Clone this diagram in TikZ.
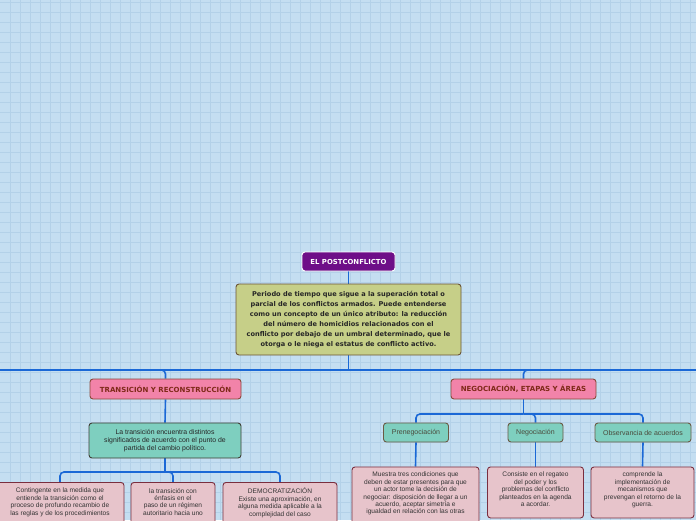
\documentclass[tikz,border=0pt]{standalone}
\usepackage{fontspec}
\setmainfont{Liberation Sans}
\newfontfamily\dvsans{DejaVu Sans}
\pgfdeclarelayer{gridlayer}
\pgfdeclarelayer{connlayer}
\pgfsetlayers{gridlayer,connlayer,main}
\begin{document}
\begin{tikzpicture}[x=1pt,y=-1pt,
  conn/.style={draw=lineblue,line width=1.6pt,rounded corners=4pt},
  box/.style={rounded corners=3pt,line width=0.9pt,align=center,inner sep=0pt},
  rootbox/.style={box,fill=rootpurple,draw=white,text=white,font=\dvsans\bfseries\fontsize{6.9}{7}\selectfont,minimum width=93pt,minimum height=19pt},
  defbox/.style={box,fill=olive1,draw=brown1,text=black!85,font=\dvsans\bfseries\fontsize{6.6}{10}\selectfont,minimum width=225pt,minimum height=71pt},
  titlebox/.style={box,fill=pink1,draw=brown2,text=titlered,font=\dvsans\bfseries\fontsize{7}{7}\selectfont,minimum height=20pt},
  tealbox/.style={box,fill=teal1,draw=gray1,text=black!85,font=\fontsize{6.9}{8}\selectfont,minimum height=19pt},
  phasebox/.style={box,fill=teal1,draw=gray2,text=smalltext,font=\fontsize{7}{8}\selectfont,minimum height=19pt},
  leafbox/.style={box,fill=pink2,draw=leafborder,anchor=north},
  leaftext/.style={anchor=north,align=center,inner sep=0pt,text=black!80,font=\fontsize{6.6}{7.4}\selectfont}
]
\definecolor{bgblue}{HTML}{C4DEF1}
\definecolor{gridblue}{HTML}{B3D1E8}
\definecolor{lineblue}{HTML}{1A68D6}
\definecolor{rootpurple}{HTML}{6E0E88}
\definecolor{olive1}{HTML}{C6CF88}
\definecolor{brown1}{HTML}{6B5434}
\definecolor{pink1}{HTML}{F283A9}
\definecolor{brown2}{HTML}{8A4A3A}
\definecolor{titlered}{HTML}{7E2A18}
\definecolor{teal1}{HTML}{7ECFBF}
\definecolor{gray1}{HTML}{3E3E34}
\definecolor{gray2}{HTML}{6A5A44}
\definecolor{pink2}{HTML}{E7C4CB}
\definecolor{leafborder}{HTML}{7A2E3E}
\definecolor{smalltext}{HTML}{4A4A3C}

\useasboundingbox (0,0) rectangle (696,520);
\begin{pgfonlayer}{gridlayer}
\fill[bgblue] (0,0) rectangle (696,520);
\foreach \i in {10,20,...,690} \draw[gridblue,line width=0.8pt] (\i,0) -- (\i,520);
\foreach \j in {2,12,...,512} \draw[gridblue,line width=0.8pt] (0,\j) -- (696,\j);
\end{pgfonlayer}

\begin{scope}
\clip (0,0) rectangle (696,520);
\coordinate (hl) at (0,370);
\coordinate (hr) at (696,370);
\coordinate (tb) at (165,472);
\coordinate (nb) at (523.5,414);

% nodes
\node[rootbox] (root) at (348.5,261.5) {EL POSTCONFLICTO};
\node[defbox] (def) at (348.5,319.5) {Periodo de tiempo que sigue a la superación total o\\parcial de los conflictos armados. Puede entenderse\\como un concepto de un único atributo: la reducción\\del número de homicidios relacionados con el\\conflicto por debajo de un umbral determinado, que le\\otorga o le niega el estatus de conflicto activo.};

\node[titlebox,minimum width=151pt] (trans) at (165.5,389) {TRANSICIÓN Y RECONSTRUCCIÓN};
\node[titlebox,minimum width=145pt] (nego) at (523.5,389) {NEGOCIACIÓN, ETAPAS Y ÁREAS};

\node[tealbox,minimum width=152pt,minimum height=35pt] (tdef) at (165,440.5) {La transición encuentra distintos\\significados de acuerdo con el punto de\\partida del cambio político.};

\node[phasebox,minimum width=65pt] (pre) at (416,432.5) {Prenegociación};
\node[phasebox,minimum width=55pt] (neg) at (535.5,432.5) {Negociación};
\node[phasebox,minimum width=96pt] (obs) at (643,432.5) {Observancia de acuerdos};

\node[leafbox,minimum width=128pt,minimum height=60pt] (c1) at (60,482) {};
\node[leafbox,minimum width=84pt,minimum height=60pt] (c2) at (173,482) {};
\node[leafbox,minimum width=114pt,minimum height=60pt] (c3) at (280,482) {};
\node[leafbox,minimum width=127pt,minimum height=70pt] (mu) at (415.5,466.5) {};
\node[leafbox,minimum width=96pt,minimum height=51pt] (co) at (535.5,466.5) {};
\node[leafbox,minimum width=103pt,minimum height=51pt] (cp) at (642.5,466.5) {};

\node[leaftext] (c1t) at ([yshift=-6pt]c1.north) {Contingente en la medida que\\entiende la transición como el\\proceso de profundo recambio de\\las reglas y de los procedimientos};
\node[leaftext] (c2t) at ([yshift=-6pt]c2.north) {la transición con\\énfasis en el\\paso de un régimen\\autoritario hacia uno};
\node[leaftext] (c3t) at ([yshift=-6pt]c3.north) {DEMOCRATIZACIÓN\\Existe una aproximación, en\\alguna medida aplicable a la\\complejidad del caso};
\node[leaftext] (mut) at ([yshift=-5.5pt]mu.north) {Muestra tres condiciones que\\deben de estar presentes para que\\un actor tome la decisión de\\negociar: disposición de llegar a un\\acuerdo, aceptar simetría e\\igualdad en relación con las otras};
\node[leaftext] (cot) at ([yshift=-5.5pt]co.north) {Consiste en el regateo\\del poder y los\\problemas del conflicto\\planteados en la agenda\\a acordar.};
\node[leaftext] (cpt) at ([yshift=-5.5pt]cp.north) {comprende la\\implementación de\\mecanismos que\\prevengan el retorno de la\\guerra.};
\end{scope}

\begin{pgfonlayer}{connlayer}
\draw[conn] (root.south) -- (def.north);
\draw[conn] (hl) -- (hr);
\draw[conn] (def.south) -- (def.south |- hl);
\draw[conn] (hl) -| (trans.north);
\draw[conn] (hr) -| (nego.north);
\draw[conn] (trans.south) -- (tdef.north);
\draw[conn] (tdef.south) -- (tb);
\draw[conn] (tb) -| (c1.north);
\draw[conn] (tb) -| (c2.north);
\draw[conn] (tb) -| (c3.north);
\draw[conn] (nego.south) -- (nb);
\draw[conn] (nb) -| (pre.north);
\draw[conn] (nb) -| (neg.north);
\draw[conn] (nb) -| (obs.north);
\draw[conn] (pre.south) -- (mu.north);
\draw[conn] (neg.south) -- (co.north);
\draw[conn] (obs.south) -- (cp.north);
\end{pgfonlayer}
\end{tikzpicture}
\end{document}
